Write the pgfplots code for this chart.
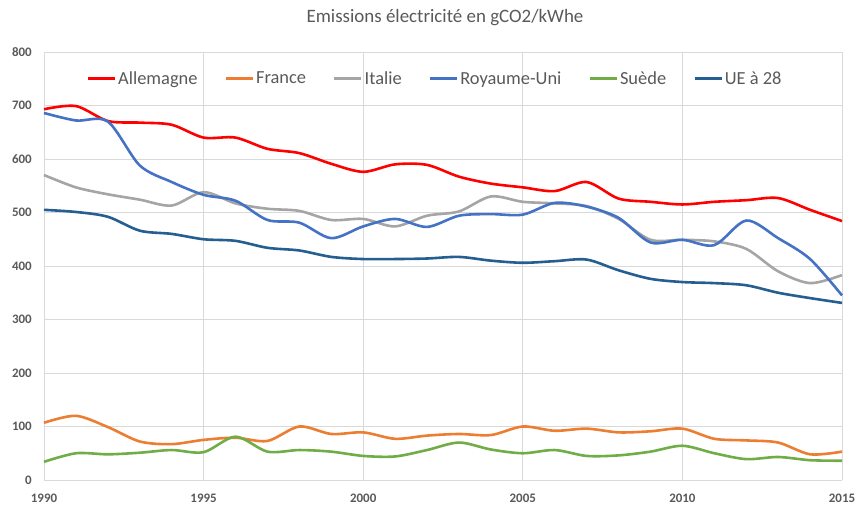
\documentclass[border=0pt]{standalone}
\usepackage{fontspec}
\setmainfont{Carlito}
\usepackage{pgfplots}
\usepackage{pgfplotstable}
\pgfplotsset{compat=1.18}
\usetikzlibrary{calc}
\definecolor{cAll}{HTML}{FF0000}
\definecolor{cFra}{HTML}{ED7D31}
\definecolor{cIta}{HTML}{A5A5A5}
\definecolor{cRU}{HTML}{4472C4}
\definecolor{cSue}{HTML}{70AD47}
\definecolor{cUE}{HTML}{255E91}
\definecolor{gridc}{HTML}{D9D9D9}
\definecolor{txt}{HTML}{595959}
\pgfplotstableread{
year All Fra Ita RU Sue UE
1990 693 107 570 686 34 505
1991 699 120 547 672 50 501
1992 671 99 534 670 48 492
1993 668 72 524 588 51 466
1994 664 67 513 557 56 460
1995 640 75 538 533 52 450
1996 640 79 517 522 81 447
1997 619 73 507 486 53 434
1998 611 100 503 481 56 429
1999 591 86 486 452 53 417
2000 576 89 488 474 45 413
2001 590 77 474 488 44 413
2002 589 83 494 473 56 414
2003 567 86 502 494 70 417
2004 554 84 530 497 57 410
2005 547 100 520 496 50 406
2006 540 92 517 518 56 409
2007 557 96 512 511 45 412
2008 526 89 488 490 46 392
2009 520 91 449 444 53 376
2010 515 96 449 449 64 370
2011 520 77 446 439 50 368
2012 523 74 432 485 39 364
2013 527 70 390 452 43 350
2014 505 48 368 413 37 340
2015 484 53 383 345 36 331
}\data
\begin{document}
\begin{tikzpicture}
\begin{axis}[
  name=ax,
  scale only axis,
  width=798bp, height=428bp,
  xmin=1990, xmax=2015, ymin=0, ymax=800,
  xtick={1990,1995,...,2015},
  ytick={0,100,...,800},
  grid=major,
  major grid style={draw=gridc, line width=0.8bp},
  axis line style={draw=none},
  major tick length=0pt,
  /pgf/number format/assume math mode=true,
  /pgf/number format/1000 sep={},
  ticklabel style={font=\bfseries\fontsize{13}{13}\selectfont, text=txt},
  x tick label style={inner sep=0pt, anchor=north, yshift=-14bp},
  y tick label style={inner sep=0pt, anchor=east, xshift=-12bp},
  legend columns=-1,
  legend style={draw=none, fill=none, at={(0.49,0.938)}, anchor=center,
    font=\fontsize{18.5}{18.5}\selectfont, text=txt,
    /tikz/every even column/.append style={column sep=25bp},
    legend cell align=left, inner sep=0pt},
  legend image code/.code={\draw[#1, line width=2.6bp] (0bp,0bp) -- (27bp,0bp);},
  every axis plot/.append style={line width=2.6bp, smooth, tension=0.5},
  clip=false,
]
\addplot[cAll] table[x=year,y=All]{\data};
\addlegendentry{Allemagne}
\addplot[cFra] table[x=year,y=Fra]{\data};
\addlegendentry{France}
\addplot[cIta] table[x=year,y=Ita]{\data};
\addlegendentry{Italie}
\addplot[cRU] table[x=year,y=RU]{\data};
\addlegendentry{Royaume-Uni}
\addplot[cSue] table[x=year,y=Sue]{\data};
\addlegendentry{Suède}
\addplot[cUE] table[x=year,y=UE]{\data};
\addlegendentry{UE à 28}
\node[anchor=base, font=\fontsize{19}{19}\selectfont, text=txt] at ($(rel axis cs:0.5,1)+(2bp,29bp)$) {Emissions électricité en gCO2/kWhe};
\end{axis}
\pgfresetboundingbox
\path[use as bounding box] ($(ax.south west)+(-44bp,-28bp)$) rectangle ($(ax.north east)+(15bp,52bp)$);
\end{tikzpicture}
\end{document}
